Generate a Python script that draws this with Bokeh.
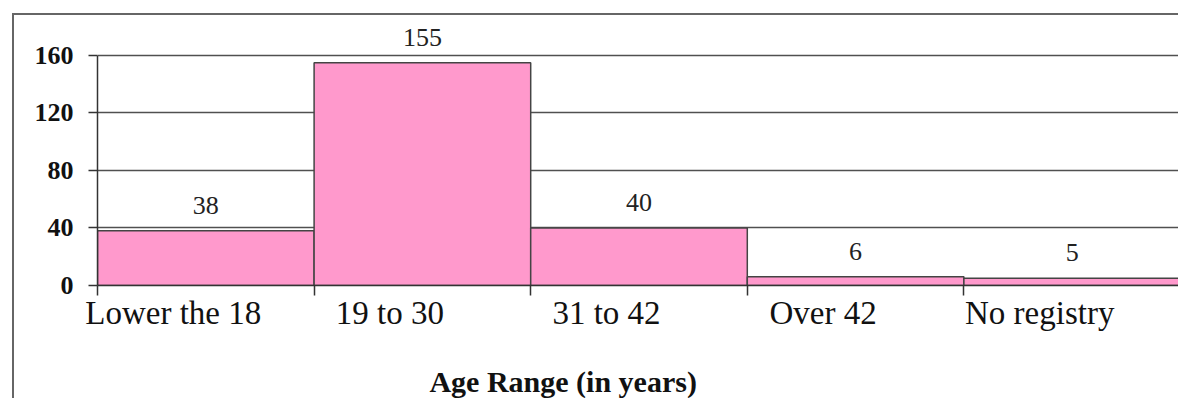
from bokeh.plotting import figure
from bokeh.models import (ColumnDataSource, LabelSet, FixedTicker, Range1d,
                          LinearAxis, CustomJSTickFormatter)
from bokeh.embed import file_html
from bokeh.resources import INLINE

categories = ["Lower the 18", "19 to 30", "31 to 42", "Over 42", "No registry"]
counts = [38, 155, 40, 6, 5]
y_ticks = [0, 40, 80, 120, 160]
x_title = "Age Range (in years)"

SERIF = "Liberation Serif"
n = len(categories)
centers = [i + 0.5 for i in range(n)]
label_anchor = 0.35   # where each category name sits inside its bin
title_anchor = 2.15   # horizontal centre of the x-axis title (in bin units)
head_room = 25        # blank value space above the top gridline for the value labels

src = ColumnDataSource(dict(x=centers, top=counts, label=[str(c) for c in counts]))

p = figure(width=1166, height=385, output_backend="svg", toolbar_location=None,
           x_range=Range1d(0, n), y_range=Range1d(y_ticks[0], y_ticks[-1] + head_room),
           min_border_left=83, min_border_right=0, min_border_top=4, min_border_bottom=20)
p.styles = {"border-top": "2px solid #666", "border-left": "2px solid #666",
            "margin-top": "13px", "margin-left": "12px"}
p.background_fill_color = "white"
p.border_fill_color = "white"
p.outline_line_color = None

p.vbar(x="x", top="top", width=1, bottom=0, source=src,
       fill_color="#FF99CC", line_color="#444444", line_width=1.5)

# right edge of the plot area (from 0 to the top gridline)
p.segment(x0=[n], y0=[y_ticks[0]], x1=[n], y1=[y_ticks[-1]],
          line_color="#999999", line_width=3)

labels = LabelSet(x="x", y="top", text="label", source=src, text_align="center",
                  text_baseline="alphabetic", y_offset=17,
                  text_font=SERIF, text_font_size="26px", text_color="#222222")
p.add_layout(labels)

# y axis
yax = p.yaxis[0]
yax.ticker = FixedTicker(ticks=y_ticks)
yax.bounds = (y_ticks[0], y_ticks[-1])
yax.major_label_text_font = SERIF
yax.major_label_text_font_style = "bold"
yax.major_label_text_font_size = "26px"
yax.major_label_text_color = "#111111"
yax.major_tick_out = 9
yax.major_tick_in = 0
yax.minor_tick_out = 0
yax.minor_tick_in = 0
yax.major_label_standoff = 15
yax.axis_line_color = "#333333"
yax.axis_line_width = 1.5
yax.major_tick_line_color = "#333333"
yax.major_tick_line_width = 1.5

# x axis: tick marks at bin boundaries, no labels
xax = p.xaxis[0]
xax.ticker = FixedTicker(ticks=list(range(n + 1)))
xax.major_label_overrides = {i: "" for i in range(n + 1)}
xax.major_label_text_font_size = "0px"
xax.major_label_standoff = 0
xax.major_tick_out = 10
xax.major_tick_in = 0
xax.minor_tick_out = 0
xax.minor_tick_in = 0
xax.axis_line_color = "#333333"
xax.axis_line_width = 1.5
xax.major_tick_line_color = "#333333"
xax.major_tick_line_width = 1.5


def text_axis(ticks, texts, standoff, size, style="normal"):
    ax = LinearAxis(ticker=FixedTicker(ticks=ticks),
                    formatter=CustomJSTickFormatter(args=dict(labels=texts),
                                                    code="return labels[Math.floor(tick)] || '';"))
    ax.axis_line_color = None
    ax.major_tick_line_color = None
    ax.minor_tick_line_color = None
    ax.major_tick_out = 0
    ax.major_tick_in = 0
    ax.minor_tick_out = 0
    ax.minor_tick_in = 0
    ax.major_label_standoff = standoff
    ax.major_label_text_font = SERIF
    ax.major_label_text_font_size = size
    ax.major_label_text_font_style = style
    ax.major_label_text_color = "#111111"
    return ax


# category names, sitting inside each bin
cat_ax = text_axis([i + label_anchor for i in range(n)], categories, -1, "33px")
p.add_layout(cat_ax, "below")

# x-axis title
title_texts = [""] * n
title_texts[int(title_anchor)] = x_title
ttl_ax = text_axis([title_anchor], title_texts, 31, "30px", "bold")
p.add_layout(ttl_ax, "below")

p.xgrid.grid_line_color = None
p.ygrid.grid_line_color = "#505050"
p.ygrid.grid_line_width = 1.5

open("out.html", "w").write(file_html(p, INLINE))
